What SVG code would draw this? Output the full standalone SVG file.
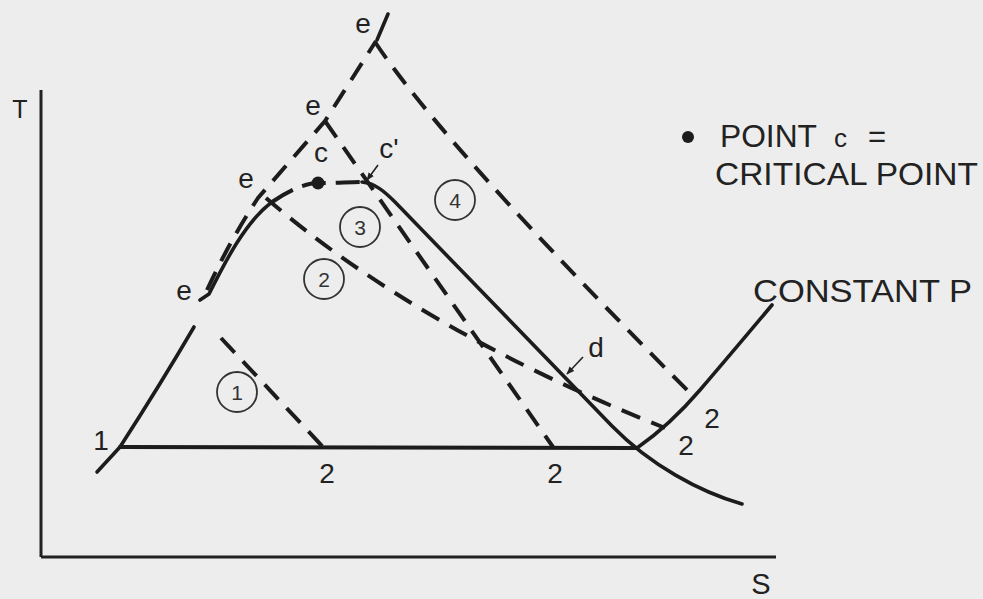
<svg xmlns="http://www.w3.org/2000/svg" width="983" height="599" viewBox="0 0 983 599">
<defs>
<style>
.ln{fill:none;stroke:#1c1c1c;stroke-width:3.6;stroke-linecap:round;stroke-linejoin:round}
.ax{fill:none;stroke:#222;stroke-width:3}
.ds{fill:none;stroke:#1c1c1c;stroke-width:4;stroke-dasharray:20 12;stroke-linecap:butt}
.thin{fill:none;stroke:#222;stroke-width:1.6}
.lbl{font-family:"Liberation Sans",Arial,sans-serif;font-size:28px;fill:#222;text-anchor:middle}
.leg{font-family:"Liberation Sans",Arial,sans-serif;font-size:31px;fill:#222}
.num{font-family:"Liberation Sans",Arial,sans-serif;font-size:21px;fill:#333;text-anchor:middle}
.cir{fill:none;stroke:#333;stroke-width:1.8}
</style>
<marker id="ah" viewBox="0 0 10 10" refX="9" refY="5" markerWidth="5" markerHeight="5" orient="auto">
<path d="M0,1 L10,5 L0,9 z" fill="#222"/>
</marker>
</defs>
<rect width="983" height="599" fill="#ededed"/>

<g id="axes">
<line class="ax" x1="41" y1="90" x2="41" y2="557"/>
<line class="ax" x1="41" y1="557" x2="776" y2="557"/>
<text class="lbl" x="20" y="118" style="font-size:25px">T</text>
<text class="lbl" x="761" y="594" style="font-size:29px">S</text>
</g>

<g id="connectors">
<!-- saturation dome, left (solid) -->
<path class="ln" d="M97,472 L120,447 C140,416 170,368 194,327"/>
<path class="ln" d="M200,300 L209,294 C224,264 245,222 272,202"/>
<!-- dome near critical point (dashed) -->
<path class="ds" d="M272,202 C288,191 305,183 318,183 C335,183 350,182 362,182" style="stroke-dasharray:24 10"/>
<!-- dome right side (solid) -->
<path class="ln" d="M362,182 C375,183 385,192 395,202 L612,426 C650,465 700,492 742,504"/>
<!-- isobar 1-2 -->
<line class="ln" x1="120" y1="447" x2="637" y2="448" style="stroke-width:4"/>
<!-- constant P -->
<path class="ln" d="M637,448 Q670,425 700,390 T772,305"/>
<!-- e line (dashed) -->
<path class="ds" d="M207,290 C222,258 238,228 258,198 L325,121 L376,41"/>
<line class="ln" x1="377" y1="40" x2="388" y2="14"/>
<!-- process 1 -->
<path class="ds" d="M221,338 L323,447"/>
<!-- process 2 -->
<path class="ds" d="M266,198 Q419,330 665,428"/>
<!-- process 3 -->
<path class="ds" d="M325,121 L553,447"/>
<!-- process 4 -->
<path class="ds" d="M375,42 Q445,147 693,396"/>
<!-- c' and d arrows -->
<line class="thin" x1="378" y1="165" x2="367" y2="180" marker-end="url(#ah)"/>
<line class="thin" x1="583" y1="357" x2="567" y2="374" marker-end="url(#ah)"/>
</g>

<g id="critical">
<circle cx="318" cy="183" r="6.5" fill="#1c1c1c"/>
<text class="lbl" x="321" y="162">c</text>
<text class="lbl" x="389" y="158">c'</text>
</g>

<g id="labels">
<text class="lbl" x="363" y="33">e</text>
<text class="lbl" x="313" y="115">e</text>
<text class="lbl" x="246" y="188">e</text>
<text class="lbl" x="184" y="300">e</text>
<text class="lbl" x="101" y="450">1</text>
<text class="lbl" x="327" y="483">2</text>
<text class="lbl" x="555" y="483">2</text>
<text class="lbl" x="686" y="455">2</text>
<text class="lbl" x="712" y="428">2</text>
<text class="lbl" x="596" y="357">d</text>
</g>

<g id="n1"><circle class="cir" cx="237" cy="392" r="20"/><text class="num" x="237" y="400">1</text></g>
<g id="n2"><circle class="cir" cx="324" cy="279" r="20"/><text class="num" x="324" y="287">2</text></g>
<g id="n3"><circle class="cir" cx="360" cy="227" r="20"/><text class="num" x="360" y="235">3</text></g>
<g id="n4"><circle class="cir" cx="455" cy="200" r="20"/><text class="num" x="455" y="208">4</text></g>

<g id="legend">
<circle cx="688" cy="137" r="6" fill="#1c1c1c"/>
<text class="leg" y="147"><tspan x="720" textLength="97" lengthAdjust="spacingAndGlyphs">POINT</tspan><tspan x="834" style="font-size:26px">c</tspan><tspan x="868">=</tspan></text>
<text class="leg" x="715" y="185" textLength="263" lengthAdjust="spacingAndGlyphs">CRITICAL POINT</text>
<text class="leg" x="753" y="302" textLength="219" lengthAdjust="spacingAndGlyphs">CONSTANT P</text>
</g>
</svg>
